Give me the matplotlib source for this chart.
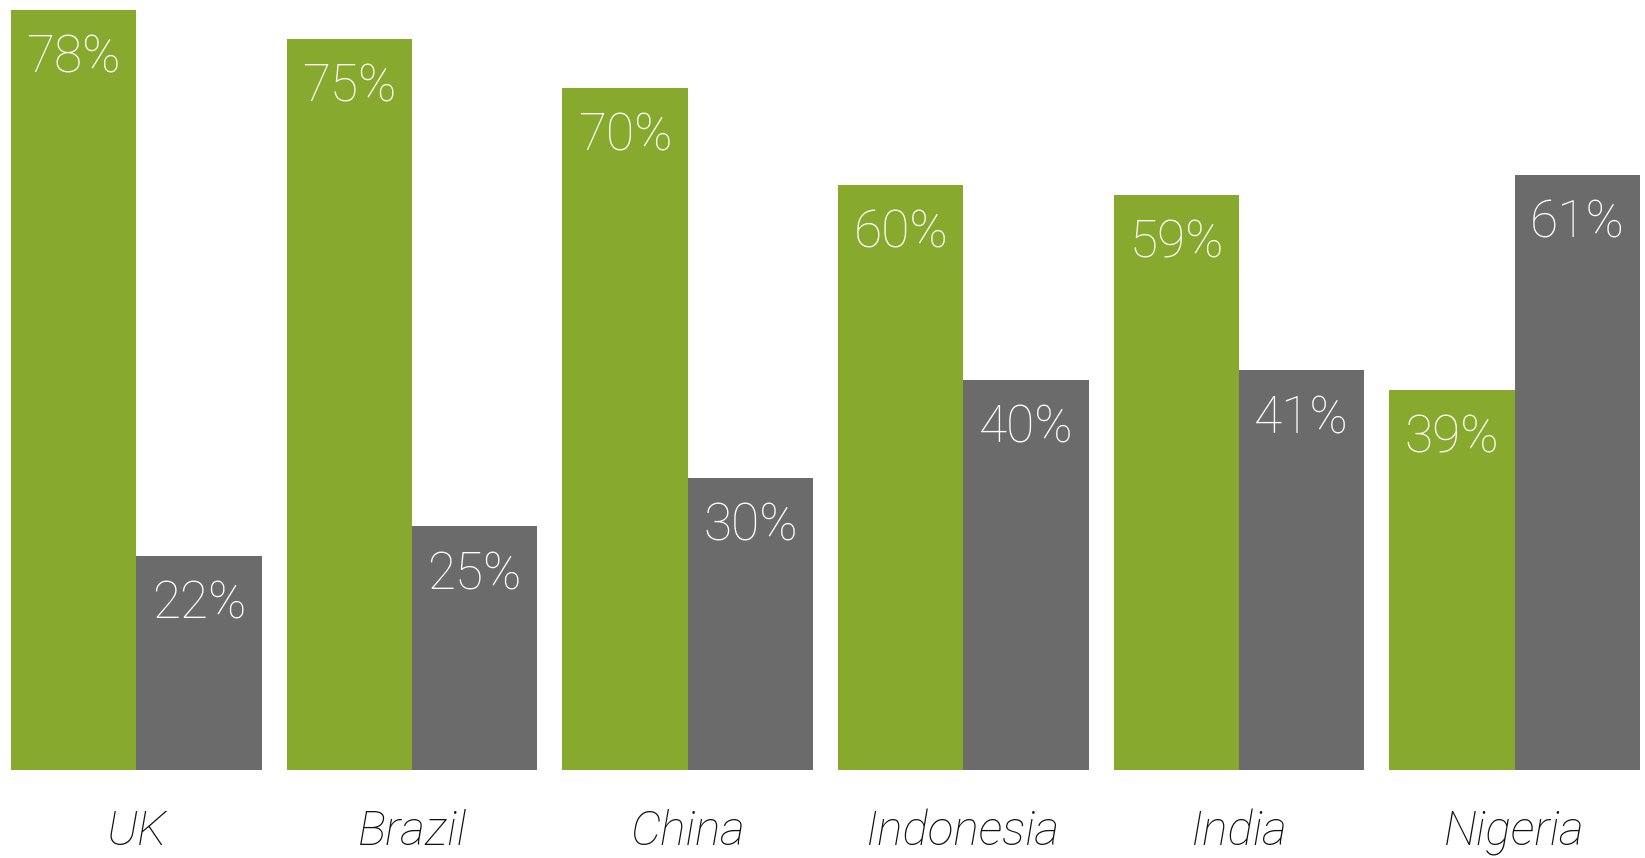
import matplotlib
matplotlib.use("Agg")
import matplotlib.pyplot as plt
import numpy as np

# Share of respondents per country, two answer groups
countries = ["UK", "Brazil", "China", "Indonesia", "India", "Nigeria"]
green_share = [78, 75, 70, 60, 59, 39]
grey_share = [22, 25, 30, 40, 41, 61]

GREEN = "#87a92e"
GREY = "#6b6b6b"
FONT = ["Roboto", "DejaVu Sans"]

fig = plt.figure(figsize=(16.45, 8.58), dpi=100)
ax = fig.add_axes([11 / 1645, 88 / 858, 1629 / 1645, 760.5 / 858])

pitch = 2.2
x = np.arange(len(countries)) * pitch
ax.bar(x, green_share, width=1.0, align="edge", color=GREEN, linewidth=0)
ax.bar(x + 1.0, grey_share, width=1.0, align="edge", color=GREY, linewidth=0)

for xi, g, r in zip(x, green_share, grey_share):
    for xc, v in ((xi + 0.5, g), (xi + 1.5, r)):
        ax.text(xc, v - 5.0, f"{v}%", ha="center", va="center", color="white",
                fontsize=37, fontweight="light", family=FONT)

ax.set_xlim(0, x[-1] + 2.0)
ax.set_ylim(0, 78)
ax.set_xticks(x + 1.0)
ax.set_xticklabels(countries, fontsize=34.5, fontstyle="italic", fontweight="light",
                   family=FONT, color="#111111")
ax.tick_params(axis="x", length=0, pad=28)
ax.set_yticks([])
for s in ax.spines.values():
    s.set_visible(False)

fig.savefig("out.png", dpi=100)
